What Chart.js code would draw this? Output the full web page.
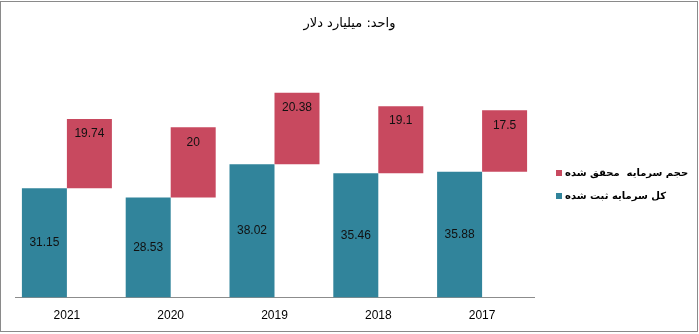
<!DOCTYPE html>
<html>
<head>
<meta charset="utf-8">
<script src="https://cdn.jsdelivr.net/npm/chart.js@4/dist/chart.umd.min.js"></script>
<style>
  html, body { margin: 0; padding: 0; background: #fff; }
  #wrap { position: relative; width: 699px; height: 334px; }
  #frame {
    position: absolute; left: 0; top: 1px; width: 698px; height: 331px;
    box-sizing: border-box; border: 1px solid #8a8a8a; pointer-events: none;
  }
</style>
</head>
<body>
<div id="wrap">
  <canvas id="capital" width="699" height="334"></canvas>
  <div id="frame"></div>
</div>
<script>
// ── capital chart data ──────────────────────────────────────────────
var years = ['2021', '2020', '2019', '2018', '2017'];
var registeredCapital = [31.15, 28.53, 38.02, 35.46, 35.88];   // کل سرمایه ثبت شده
var realizedCapital = [19.74, 20, 20.38, 19.1, 17.5];          // حجم سرمایه محقق شده
var realizedName = 'حجم سرمایه  محقق شده';
var registeredName = 'کل سرمایه ثبت شده';
var unitTitle = 'واحد: میلیارد دلار';

var TEAL = '#31849b';
var ROSE = '#c8495f';
var ARABIC_FONT = '"DejaVu Sans", sans-serif';
var NUM_FONT = '"Liberation Sans", Arial, sans-serif';

// realized bar floats on top of the registered total
var realizedRange = registeredCapital.map(function(base, i) {
  return [base, base + realizedCapital[i]];
});

// Value labels: centred in the teal bars, near the top of the rose bars.
var barValues = {
  id: 'barValues',
  afterDatasetsDraw: function(chart) {
    var ctx = chart.ctx;
    ctx.save();
    ctx.font = '12px ' + NUM_FONT;
    ctx.fillStyle = '#111';
    ctx.textAlign = 'center';
    ctx.textBaseline = 'middle';
    chart.getDatasetMeta(0).data.forEach(function(bar, i) {
      ctx.fillText(String(registeredCapital[i]), bar.x, (bar.y + bar.base) / 2);
    });
    chart.getDatasetMeta(1).data.forEach(function(bar, i) {
      ctx.fillText(String(realizedCapital[i]), bar.x, Math.min(bar.y, bar.base) + 15);
    });
    ctx.restore();
  }
};

// Unit title across the top, legend at the right of the plot.
var titleLegend = {
  id: 'titleLegend',
  afterDraw: function(chart) {
    var ctx = chart.ctx;
    var area = chart.chartArea;
    ctx.save();
    ctx.direction = 'rtl';
    ctx.fillStyle = '#000';
    ctx.textBaseline = 'middle';
    ctx.textAlign = 'center';
    ctx.font = '13px ' + ARABIC_FONT;
    ctx.fillText(unitTitle, chart.width / 2, 24);

    var items = [
      { text: realizedName, color: ROSE, y: 173 },
      { text: registeredName, color: TEAL, y: 196 }
    ];
    ctx.font = 'bold 10px ' + ARABIC_FONT;
    ctx.textAlign = 'right';
    var textLeft = area.right + 31;
    items.forEach(function(it) {
      ctx.fillStyle = it.color;
      ctx.fillRect(area.right + 22, it.y - 3, 6, 6);
      ctx.fillStyle = '#000';
      ctx.fillText(it.text, textLeft + ctx.measureText(it.text).width, it.y);
    });
    ctx.restore();
  }
};

new Chart(document.getElementById('capital'), {
  type: 'bar',
  data: {
    labels: years,
    datasets: [
      {
        label: registeredName,
        data: registeredCapital,
        backgroundColor: TEAL,
        borderWidth: 0,
        categoryPercentage: 0.867,
        barPercentage: 1
      },
      {
        label: realizedName,
        data: realizedRange,
        backgroundColor: ROSE,
        borderWidth: 0,
        categoryPercentage: 0.867,
        barPercentage: 1
      }
    ]
  },
  options: {
    responsive: false,
    animation: false,
    devicePixelRatio: 1,
    layout: { padding: { top: 52, left: 15, right: 165, bottom: 0 } },
    plugins: {
      legend: { display: false },
      title: { display: false },
      tooltip: { enabled: false }
    },
    scales: {
      x: {
        grid: { display: false, drawTicks: false },
        border: { display: true, color: '#8c8c8c', width: 1 },
        ticks: { color: '#000', padding: 11, font: { family: NUM_FONT, size: 12 } }
      },
      y: {
        display: false,
        min: 0,
        max: 70
      }
    }
  },
  plugins: [barValues, titleLegend]
});
</script>
</body>
</html>
